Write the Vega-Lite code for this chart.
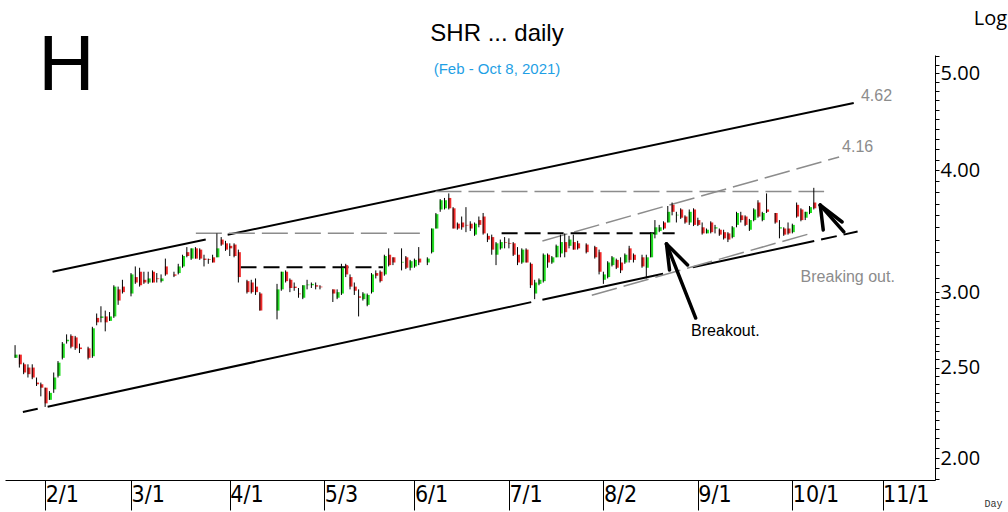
{
  "$schema": "https://vega.github.io/schema/vega-lite/v6.json",
  "width": 930,
  "height": 425,
  "autosize": {"type": "none"},
  "padding": {"left": 5, "top": 55, "right": 73, "bottom": 32},
  "background": "white",
  "config": {"view": {"stroke": null}, "font": "Liberation Sans"},
  "title": {
    "text": "SHR ... daily",
    "subtitle": "(Feb - Oct 8, 2021)",
    "anchor": "middle",
    "frame": "group",
    "dx": 27,
    "offset": -69,
    "font": "Liberation Sans",
    "fontSize": 24,
    "fontWeight": "normal",
    "color": "black",
    "subtitleFont": "Liberation Sans",
    "subtitleFontSize": 15,
    "subtitleColor": "#1f9fe5",
    "subtitlePadding": 16
  },
  "datasets": {
    "candles": [
      {"d":-7,"o":2.56,"h":2.64,"l":2.56,"c":2.58},
      {"d":-6,"o":2.58,"h":2.58,"l":2.50,"c":2.52},
      {"d":-5,"o":2.52,"h":2.53,"l":2.46,"c":2.47},
      {"d":-4,"o":2.50,"h":2.52,"l":2.44,"c":2.46},
      {"d":-3,"o":2.50,"h":2.52,"l":2.43,"c":2.44},
      {"d":-2,"o":2.41,"h":2.44,"l":2.39,"c":2.40},
      {"d":-1,"o":2.40,"h":2.41,"l":2.33,"c":2.38},
      {"d":0,"o":2.38,"h":2.38,"l":2.27,"c":2.29},
      {"d":1,"o":2.31,"h":2.36,"l":2.31,"c":2.35},
      {"d":2,"o":2.37,"h":2.47,"l":2.35,"c":2.44},
      {"d":3,"o":2.45,"h":2.54,"l":2.44,"c":2.53},
      {"d":4,"o":2.56,"h":2.66,"l":2.55,"c":2.65},
      {"d":5,"o":2.665,"h":2.71,"l":2.65,"c":2.675},
      {"d":6,"o":2.70,"h":2.71,"l":2.62,"c":2.63},
      {"d":7,"o":2.69,"h":2.70,"l":2.61,"c":2.62},
      {"d":8,"o":2.625,"h":2.65,"l":2.59,"c":2.615},
      {"d":10,"o":2.62,"h":2.63,"l":2.55,"c":2.56},
      {"d":11,"o":2.57,"h":2.76,"l":2.56,"c":2.75},
      {"d":12,"o":2.82,"h":2.85,"l":2.77,"c":2.79},
      {"d":13,"o":2.82,"h":2.90,"l":2.79,"c":2.83},
      {"d":14,"o":2.83,"h":2.87,"l":2.73,"c":2.79},
      {"d":15,"o":2.80,"h":2.86,"l":2.80,"c":2.83},
      {"d":16,"o":2.83,"h":3.05,"l":2.82,"c":3.04},
      {"d":17,"o":3.02,"h":3.04,"l":2.91,"c":2.94},
      {"d":18,"o":3.04,"h":3.09,"l":2.99,"c":3.00},
      {"d":20,"o":2.99,"h":3.14,"l":2.97,"c":3.13},
      {"d":21,"o":3.11,"h":3.19,"l":3.06,"c":3.07},
      {"d":22,"o":3.15,"h":3.18,"l":3.04,"c":3.05},
      {"d":23,"o":3.09,"h":3.15,"l":3.06,"c":3.07},
      {"d":24,"o":3.07,"h":3.15,"l":3.06,"c":3.10},
      {"d":25,"o":3.15,"h":3.16,"l":3.07,"c":3.07},
      {"d":26,"o":3.10,"h":3.14,"l":3.07,"c":3.095},
      {"d":27,"o":3.08,"h":3.13,"l":3.07,"c":3.10},
      {"d":28,"o":3.19,"h":3.25,"l":3.12,"c":3.13},
      {"d":30,"o":3.13,"h":3.15,"l":3.11,"c":3.12},
      {"d":31,"o":3.14,"h":3.21,"l":3.13,"c":3.19},
      {"d":32,"o":3.19,"h":3.28,"l":3.18,"c":3.27},
      {"d":33,"o":3.30,"h":3.34,"l":3.26,"c":3.27},
      {"d":34,"o":3.25,"h":3.33,"l":3.24,"c":3.33},
      {"d":35,"o":3.33,"h":3.34,"l":3.25,"c":3.25},
      {"d":36,"o":3.32,"h":3.33,"l":3.24,"c":3.25},
      {"d":37,"o":3.25,"h":3.28,"l":3.19,"c":3.24},
      {"d":38,"o":3.245,"h":3.25,"l":3.21,"c":3.24},
      {"d":39,"o":3.26,"h":3.28,"l":3.22,"c":3.22},
      {"d":40,"o":3.26,"h":3.45,"l":3.26,"c":3.33},
      {"d":41,"o":3.40,"h":3.42,"l":3.35,"c":3.36},
      {"d":42,"o":3.37,"h":3.39,"l":3.31,"c":3.32},
      {"d":43,"o":3.35,"h":3.37,"l":3.27,"c":3.33},
      {"d":44,"o":3.36,"h":3.37,"l":3.26,"c":3.27},
      {"d":45,"o":3.30,"h":3.32,"l":3.07,"c":3.11},
      {"d":47,"o":3.08,"h":3.09,"l":2.99,"c":3.00},
      {"d":48,"o":3.07,"h":3.09,"l":2.99,"c":3.00},
      {"d":49,"o":3.04,"h":3.10,"l":2.98,"c":3.00},
      {"d":50,"o":2.99,"h":3.00,"l":2.87,"c":2.87},
      {"d":54,"o":2.87,"h":3.06,"l":2.81,"c":3.02},
      {"d":55,"o":3.02,"h":3.15,"l":3.01,"c":3.15},
      {"d":56,"o":3.15,"h":3.16,"l":3.07,"c":3.08},
      {"d":57,"o":3.09,"h":3.10,"l":3.00,"c":3.03},
      {"d":58,"o":3.04,"h":3.07,"l":3.01,"c":3.03},
      {"d":59,"o":2.99,"h":3.03,"l":2.96,"c":2.985},
      {"d":60,"o":2.96,"h":3.05,"l":2.95,"c":3.05},
      {"d":61,"o":3.05,"h":3.09,"l":3.02,"c":3.055},
      {"d":62,"o":3.05,"h":3.07,"l":3.03,"c":3.06},
      {"d":63,"o":3.05,"h":3.07,"l":3.02,"c":3.04},
      {"d":64,"o":3.04,"h":3.05,"l":3.02,"c":3.035},
      {"d":67,"o":3.02,"h":3.02,"l":2.93,"c":2.99},
      {"d":68,"o":2.96,"h":3.02,"l":2.95,"c":3.00},
      {"d":69,"o":2.99,"h":3.21,"l":2.98,"c":3.18},
      {"d":70,"o":3.20,"h":3.21,"l":3.11,"c":3.13},
      {"d":71,"o":3.11,"h":3.13,"l":3.02,"c":3.04},
      {"d":72,"o":3.04,"h":3.07,"l":2.98,"c":3.01},
      {"d":73,"o":2.97,"h":3.02,"l":2.83,"c":2.96},
      {"d":74,"o":2.95,"h":3.00,"l":2.94,"c":2.99},
      {"d":75,"o":2.91,"h":2.99,"l":2.90,"c":2.98},
      {"d":76,"o":3.00,"h":3.14,"l":2.99,"c":3.13},
      {"d":77,"o":3.14,"h":3.16,"l":3.10,"c":3.12},
      {"d":78,"o":3.15,"h":3.16,"l":3.07,"c":3.08},
      {"d":79,"o":3.13,"h":3.28,"l":3.12,"c":3.27},
      {"d":80,"o":3.28,"h":3.33,"l":3.19,"c":3.20},
      {"d":81,"o":3.26,"h":3.26,"l":3.20,"c":3.22},
      {"d":83,"o":3.22,"h":3.33,"l":3.16,"c":3.225},
      {"d":84,"o":3.26,"h":3.27,"l":3.17,"c":3.18},
      {"d":85,"o":3.18,"h":3.24,"l":3.16,"c":3.23},
      {"d":86,"o":3.19,"h":3.25,"l":3.18,"c":3.24},
      {"d":87,"o":3.25,"h":3.34,"l":3.20,"c":3.22},
      {"d":89,"o":3.22,"h":3.26,"l":3.20,"c":3.25},
      {"d":90,"o":3.30,"h":3.49,"l":3.29,"c":3.49},
      {"d":91,"o":3.49,"h":3.62,"l":3.49,"c":3.61},
      {"d":92,"o":3.65,"h":3.74,"l":3.63,"c":3.73},
      {"d":93,"o":3.66,"h":3.75,"l":3.65,"c":3.73},
      {"d":94,"o":3.75,"h":3.79,"l":3.65,"c":3.66},
      {"d":95,"o":3.66,"h":3.67,"l":3.49,"c":3.49},
      {"d":96,"o":3.53,"h":3.54,"l":3.48,"c":3.49},
      {"d":97,"o":3.54,"h":3.59,"l":3.48,"c":3.50},
      {"d":98,"o":3.52,"h":3.67,"l":3.46,"c":3.515},
      {"d":99,"o":3.53,"h":3.55,"l":3.47,"c":3.49},
      {"d":100,"o":3.44,"h":3.54,"l":3.43,"c":3.53},
      {"d":101,"o":3.56,"h":3.59,"l":3.50,"c":3.52},
      {"d":102,"o":3.59,"h":3.62,"l":3.44,"c":3.45},
      {"d":103,"o":3.43,"h":3.45,"l":3.38,"c":3.40},
      {"d":104,"o":3.42,"h":3.44,"l":3.28,"c":3.32},
      {"d":105,"o":3.28,"h":3.38,"l":3.20,"c":3.37},
      {"d":106,"o":3.33,"h":3.40,"l":3.32,"c":3.38},
      {"d":107,"o":3.38,"h":3.42,"l":3.33,"c":3.375},
      {"d":108,"o":3.37,"h":3.41,"l":3.33,"c":3.365},
      {"d":109,"o":3.37,"h":3.38,"l":3.27,"c":3.28},
      {"d":110,"o":3.28,"h":3.34,"l":3.20,"c":3.22},
      {"d":111,"o":3.22,"h":3.33,"l":3.21,"c":3.32},
      {"d":112,"o":3.32,"h":3.33,"l":3.22,"c":3.22},
      {"d":113,"o":3.21,"h":3.22,"l":3.03,"c":3.05},
      {"d":114,"o":2.99,"h":3.09,"l":2.95,"c":3.07},
      {"d":115,"o":3.06,"h":3.10,"l":3.05,"c":3.09},
      {"d":116,"o":3.08,"h":3.29,"l":3.07,"c":3.28},
      {"d":117,"o":3.28,"h":3.29,"l":3.18,"c":3.22},
      {"d":118,"o":3.22,"h":3.27,"l":3.21,"c":3.26},
      {"d":119,"o":3.26,"h":3.36,"l":3.26,"c":3.35},
      {"d":120,"o":3.29,"h":3.44,"l":3.26,"c":3.38},
      {"d":121,"o":3.38,"h":3.45,"l":3.26,"c":3.30},
      {"d":122,"o":3.35,"h":3.43,"l":3.33,"c":3.40},
      {"d":123,"o":3.38,"h":3.44,"l":3.32,"c":3.32},
      {"d":124,"o":3.37,"h":3.39,"l":3.32,"c":3.33},
      {"d":126,"o":3.36,"h":3.37,"l":3.29,"c":3.30},
      {"d":128,"o":3.34,"h":3.35,"l":3.25,"c":3.26},
      {"d":129,"o":3.30,"h":3.32,"l":3.13,"c":3.15},
      {"d":130,"o":3.09,"h":3.15,"l":3.06,"c":3.13},
      {"d":131,"o":3.11,"h":3.23,"l":3.10,"c":3.22},
      {"d":132,"o":3.20,"h":3.27,"l":3.19,"c":3.26},
      {"d":133,"o":3.24,"h":3.25,"l":3.17,"c":3.18},
      {"d":134,"o":3.22,"h":3.26,"l":3.14,"c":3.16},
      {"d":135,"o":3.22,"h":3.29,"l":3.21,"c":3.28},
      {"d":136,"o":3.33,"h":3.35,"l":3.22,"c":3.24},
      {"d":137,"o":3.28,"h":3.29,"l":3.22,"c":3.24},
      {"d":139,"o":3.26,"h":3.28,"l":3.18,"c":3.19},
      {"d":140,"o":3.18,"h":3.28,"l":3.10,"c":3.26},
      {"d":141,"o":3.26,"h":3.46,"l":3.26,"c":3.45},
      {"d":142,"o":3.44,"h":3.56,"l":3.41,"c":3.50},
      {"d":143,"o":3.47,"h":3.52,"l":3.46,"c":3.50},
      {"d":144,"o":3.54,"h":3.55,"l":3.48,"c":3.49},
      {"d":145,"o":3.54,"h":3.68,"l":3.54,"c":3.63},
      {"d":146,"o":3.69,"h":3.71,"l":3.60,"c":3.63},
      {"d":147,"o":3.60,"h":3.63,"l":3.54,"c":3.605},
      {"d":148,"o":3.65,"h":3.66,"l":3.57,"c":3.58},
      {"d":149,"o":3.59,"h":3.60,"l":3.53,"c":3.54},
      {"d":150,"o":3.54,"h":3.65,"l":3.52,"c":3.63},
      {"d":151,"o":3.65,"h":3.66,"l":3.51,"c":3.52},
      {"d":152,"o":3.56,"h":3.58,"l":3.51,"c":3.52},
      {"d":153,"o":3.50,"h":3.54,"l":3.44,"c":3.45},
      {"d":154,"o":3.45,"h":3.49,"l":3.45,"c":3.48},
      {"d":155,"o":3.54,"h":3.55,"l":3.45,"c":3.46},
      {"d":156,"o":3.49,"h":3.52,"l":3.45,"c":3.50},
      {"d":157,"o":3.48,"h":3.49,"l":3.43,"c":3.44},
      {"d":158,"o":3.46,"h":3.48,"l":3.40,"c":3.41},
      {"d":159,"o":3.45,"h":3.46,"l":3.38,"c":3.40},
      {"d":160,"o":3.42,"h":3.51,"l":3.41,"c":3.50},
      {"d":161,"o":3.52,"h":3.63,"l":3.50,"c":3.62},
      {"d":162,"o":3.60,"h":3.63,"l":3.54,"c":3.56},
      {"d":163,"o":3.59,"h":3.60,"l":3.51,"c":3.52},
      {"d":164,"o":3.48,"h":3.57,"l":3.47,"c":3.56},
      {"d":165,"o":3.56,"h":3.66,"l":3.55,"c":3.65},
      {"d":166,"o":3.71,"h":3.73,"l":3.58,"c":3.59},
      {"d":167,"o":3.56,"h":3.63,"l":3.55,"c":3.62},
      {"d":168,"o":3.65,"h":3.79,"l":3.62,"c":3.63},
      {"d":170,"o":3.62,"h":3.62,"l":3.53,"c":3.54},
      {"d":171,"o":3.49,"h":3.56,"l":3.41,"c":3.50},
      {"d":172,"o":3.49,"h":3.50,"l":3.43,"c":3.44},
      {"d":173,"o":3.49,"h":3.54,"l":3.44,"c":3.45},
      {"d":174,"o":3.46,"h":3.53,"l":3.45,"c":3.52},
      {"d":175,"o":3.69,"h":3.71,"l":3.58,"c":3.59},
      {"d":176,"o":3.65,"h":3.66,"l":3.55,"c":3.56},
      {"d":177,"o":3.58,"h":3.63,"l":3.56,"c":3.63},
      {"d":178,"o":3.62,"h":3.68,"l":3.61,"c":3.67},
      {"d":179,"o":3.71,"h":3.84,"l":3.65,"c":3.66}
    ],
    "channel": [
      {"d":1.73,"p":3.150,"d2":37.4,"p2":3.401},
      {"d":42.5,"p":3.4385,"d2":188.3,"p2":4.6735},
      {"d":-5.18,"p":2.242,"d2":-1.73,"p2":2.2597},
      {"d":0.58,"p":2.2713,"d2":113.2,"p2":2.929},
      {"d":115.8,"p":2.9454,"d2":143.9,"p2":3.1356},
      {"d":150.8,"p":3.1837,"d2":179.1,"p2":3.3887}
    ],
    "grayDash": [
      {"d":35.1,"p":3.451,"d2":87.4,"p2":3.451},
      {"d":90.9,"p":3.807,"d2":181.4,"p2":3.807},
      {"d":115.8,"p":3.389,"d2":184.9,"p2":4.126},
      {"d":127.3,"p":2.978,"d2":177.7,"p2":3.444}
    ],
    "blackDash": [
      {"d":45.5,"p":3.184,"d2":78.7,"p2":3.184},
      {"d":106.3,"p":3.451,"d2":146.6,"p2":3.451},
      {"d":180.7,"p":3.4006,"d2":189.2,"p2":3.4648}
    ],
    "arrows": [
      {"d":144.7,"p":3.365,"d2":151.5,"p2":2.819},
      {"d":144.7,"p":3.365,"d2":145.4,"p2":3.163},
      {"d":144.7,"p":3.365,"d2":149.6,"p2":3.201},
      {"d":180.5,"p":3.688,"d2":186.0,"p2":3.462},
      {"d":180.5,"p":3.688,"d2":181.2,"p2":3.478},
      {"d":180.5,"p":3.688,"d2":185.6,"p2":3.544}
    ],
    "grayNotes": [
      {"d":193.6,"p":4.748,"label":"4.62"},
      {"d":189.2,"p":4.223,"label":"4.16"},
      {"d":186.9,"p":3.111,"label":"Breaking out."}
    ],
    "blackNotes": [
      {"d":158.4,"p":2.732,"label":"Breakout."}
    ],
    "panel": [
      {"d":4.95,"p":5.073,"label":"H"}
    ]
  },
  "layer": [
    {
      "data": {"name": "channel"},
      "mark": {"type": "rule", "color": "black", "strokeWidth": 2},
      "encoding": {
        "x": {"field": "d", "type": "quantitative",
          "scale": {"type": "linear", "domain": [-8.18, 206.06], "nice": false, "zero": false},
          "axis": {
            "values": [0, 20, 43, 65, 86, 108, 130, 152, 174, 195],
            "tickCount": 100,
            "labelExpr": "datum.value==0?'2/1':datum.value==20?'3/1':datum.value==43?'4/1':datum.value==65?'5/3':datum.value==86?'6/1':datum.value==108?'7/1':datum.value==130?'8/2':datum.value==152?'9/1':datum.value==174?'10/1':'11/1'",
            "title": "Day", "titleX": 988, "titleY": 23, "titleAngle": 0,
            "titleFont": "Liberation Mono", "titleFontSize": 10, "titleFontWeight": "normal",
            "titleColor": "#333333", "titleAlign": "center", "titleBaseline": "middle",
            "domainColor": "black", "domainWidth": 1,
            "tickColor": "black", "tickSize": 30, "tickWidth": 1,
            "labelAlign": "left", "labelBaseline": "top", "labelPadding": -27, "labelDx": 2,
            "labelFont": "Liberation Sans Narrow, DejaVu Sans Condensed, Liberation Sans, sans-serif", "labelFontSize": 23, "labelColor": "black",
            "labelOverlap": false, "labelFlush": false, "grid": false
          }},
        "x2": {"field": "d2"},
        "y": {"field": "p", "type": "quantitative",
          "scale": {"type": "pow", "exponent": 0.1, "domain": [1.893, 5.213], "nice": false, "zero": false},
          "axis": {
            "orient": "right",
            "values": [1.9,1.95,2,2.05,2.1,2.15,2.2,2.25,2.3,2.35,2.4,2.45,2.5,2.55,2.6,2.65,2.7,2.75,2.8,2.85,2.9,2.95,3,3.1,3.2,3.3,3.4,3.5,3.6,3.7,3.8,3.9,4,4.1,4.2,4.3,4.4,4.5,4.6,4.7,4.8,4.9,5,5.1,5.2],
            "tickCount": 200,
            "labelExpr": "indexof([2,2.5,3,4,5], datum.value) >= 0 ? format(datum.value, '.2f') : ''",
            "title": "Log", "titleX": 55, "titleY": -37, "titleAngle": 0,
            "titleFont": "Open Sans", "titleFontSize": 20, "titleFontWeight": "normal",
            "titleColor": "black", "titleAlign": "center", "titleBaseline": "middle",
            "domainColor": "black", "domainWidth": 1,
            "tickColor": "black", "tickSize": 4, "tickWidth": 1,
            "labelFont": "Open Sans", "labelFontSize": 20, "labelColor": "black",
            "labelPadding": 1, "labelBaseline": "middle",
            "labelOverlap": false, "labelFlush": false, "grid": false
          }},
        "y2": {"field": "p2"}
      }
    },
    {
      "data": {"name": "grayDash"},
      "mark": {"type": "rule", "color": "#8c8c8c", "strokeWidth": 1.5, "strokeDash": [26, 7]},
      "encoding": {
        "x": {"field": "d", "type": "quantitative", "scale": {"type": "linear", "domain": [-8.18, 206.06], "nice": false, "zero": false}},
        "x2": {"field": "d2"},
        "y": {"field": "p", "type": "quantitative", "scale": {"type": "pow", "exponent": 0.1, "domain": [1.893, 5.213], "nice": false, "zero": false}},
        "y2": {"field": "p2"}
      }
    },
    {
      "data": {"name": "blackDash"},
      "mark": {"type": "rule", "color": "black", "strokeWidth": 2, "strokeDash": [16, 7]},
      "encoding": {
        "x": {"field": "d", "type": "quantitative", "scale": {"type": "linear", "domain": [-8.18, 206.06], "nice": false, "zero": false}},
        "x2": {"field": "d2"},
        "y": {"field": "p", "type": "quantitative", "scale": {"type": "pow", "exponent": 0.1, "domain": [1.893, 5.213], "nice": false, "zero": false}},
        "y2": {"field": "p2"}
      }
    },
    {
      "data": {"name": "candles"},
      "mark": {"type": "bar", "width": 3, "xOffset": 1},
      "encoding": {
        "x": {"field": "d", "type": "quantitative", "scale": {"type": "linear", "domain": [-8.18, 206.06], "nice": false, "zero": false}},
        "y": {"field": "o", "type": "quantitative", "scale": {"type": "pow", "exponent": 0.1, "domain": [1.893, 5.213], "nice": false, "zero": false}},
        "y2": {"field": "c"},
        "color": {"condition": {"test": "datum.c >= datum.o", "value": "#22dd22"}, "value": "#ee2b2b"}
      }
    },
    {
      "data": {"name": "candles"},
      "mark": {"type": "rule", "color": "black", "strokeWidth": 1},
      "encoding": {
        "x": {"field": "d", "type": "quantitative", "scale": {"type": "linear", "domain": [-8.18, 206.06], "nice": false, "zero": false}},
        "y": {"field": "l", "type": "quantitative", "scale": {"type": "pow", "exponent": 0.1, "domain": [1.893, 5.213], "nice": false, "zero": false}},
        "y2": {"field": "h"}
      }
    },
    {
      "data": {"name": "arrows"},
      "mark": {"type": "rule", "color": "black", "strokeWidth": 3.5, "strokeCap": "round"},
      "encoding": {
        "x": {"field": "d", "type": "quantitative", "scale": {"type": "linear", "domain": [-8.18, 206.06], "nice": false, "zero": false}},
        "x2": {"field": "d2"},
        "y": {"field": "p", "type": "quantitative", "scale": {"type": "pow", "exponent": 0.1, "domain": [1.893, 5.213], "nice": false, "zero": false}},
        "y2": {"field": "p2"}
      }
    },
    {
      "data": {"name": "grayNotes"},
      "mark": {"type": "text", "color": "#8c8c8c", "fontSize": 16, "font": "Liberation Sans", "align": "center", "baseline": "middle"},
      "encoding": {
        "x": {"field": "d", "type": "quantitative", "scale": {"type": "linear", "domain": [-8.18, 206.06], "nice": false, "zero": false}},
        "y": {"field": "p", "type": "quantitative", "scale": {"type": "pow", "exponent": 0.1, "domain": [1.893, 5.213], "nice": false, "zero": false}},
        "text": {"field": "label"}
      }
    },
    {
      "data": {"name": "blackNotes"},
      "mark": {"type": "text", "color": "black", "fontSize": 16, "font": "Liberation Sans", "align": "center", "baseline": "middle"},
      "encoding": {
        "x": {"field": "d", "type": "quantitative", "scale": {"type": "linear", "domain": [-8.18, 206.06], "nice": false, "zero": false}},
        "y": {"field": "p", "type": "quantitative", "scale": {"type": "pow", "exponent": 0.1, "domain": [1.893, 5.213], "nice": false, "zero": false}},
        "text": {"field": "label"}
      }
    },
    {
      "data": {"name": "panel"},
      "mark": {"type": "text", "color": "black", "fontSize": 78, "font": "Liberation Sans", "align": "center", "baseline": "middle"},
      "encoding": {
        "x": {"field": "d", "type": "quantitative", "scale": {"type": "linear", "domain": [-8.18, 206.06], "nice": false, "zero": false}},
        "y": {"field": "p", "type": "quantitative", "scale": {"type": "pow", "exponent": 0.1, "domain": [1.893, 5.213], "nice": false, "zero": false}},
        "text": {"field": "label"}
      }
    }
  ]
}
